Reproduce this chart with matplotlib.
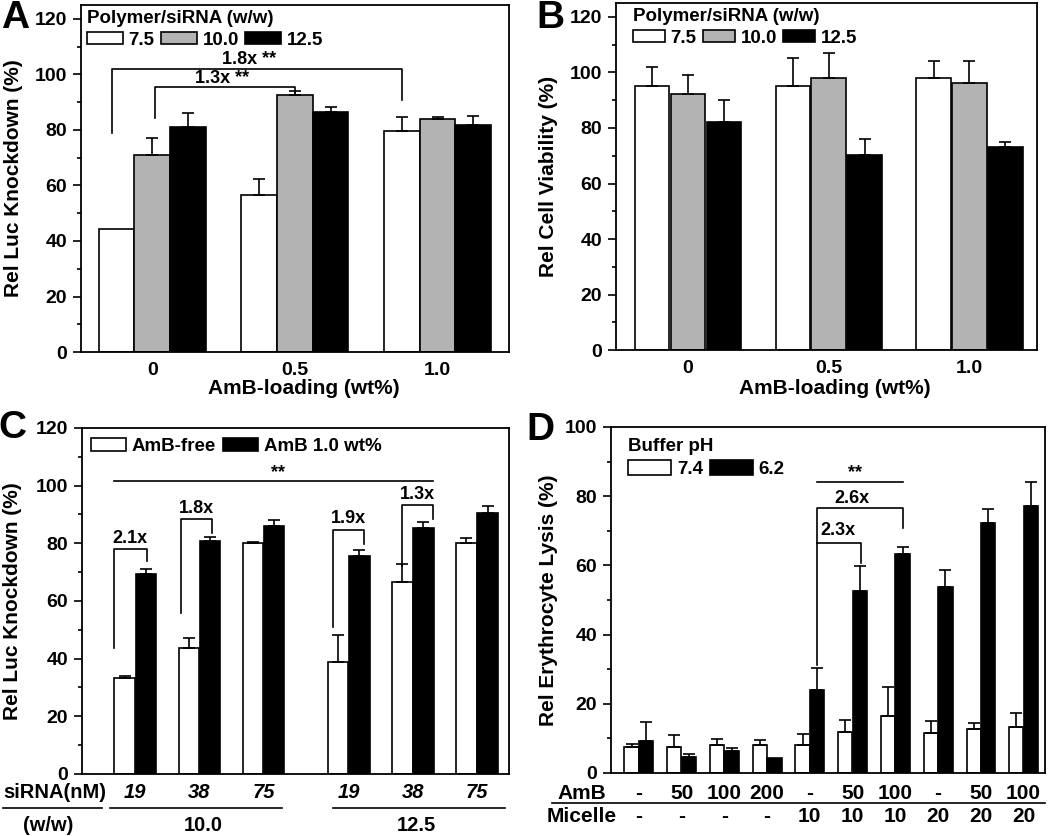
import numpy as np
import matplotlib
matplotlib.use("Agg")
import matplotlib.pyplot as plt
from matplotlib.patches import Patch
from matplotlib.ticker import MultipleLocator

plt.rcParams['font.family'] = ['Liberation Sans', 'DejaVu Sans']
plt.rcParams['font.weight'] = 'bold'
plt.rcParams['axes.labelweight'] = 'bold'

# ---------------- data ----------------
# Panel A: Rel Luc Knockdown vs AmB loading
a_groups = ["0", "0.5", "1.0"]
a_series = ["7.5", "10.0", "12.5"]
a_w75 = [44.4, 56.4, 79.7]
a_w75_err = [0.0, 6.0, 4.9]
a_w10 = [70.9, 92.5, 84.0]
a_w10_err = [6.3, 1.6, 0.6]
a_w125 = [81.2, 86.6, 81.8]
a_w125_err = [4.8, 1.8, 3.4]

# Panel B: Rel Cell Viability
b_w75 = [95.0, 95.0, 98.1]
b_w75_err = [7.0, 10.1, 6.0]
b_w10 = [92.1, 98.1, 96.1]
b_w10_err = [7.0, 8.9, 8.0]
b_w125 = [82.1, 70.2, 73.2]
b_w125_err = [8.1, 5.9, 1.9]

# Panel C: knockdown vs siRNA dose
c_sirna = ["19", "38", "75", "19", "38", "75"]
c_ww = ["10.0", "12.5"]
c_free = [33.3, 43.8, 80.1, 38.8, 66.7, 80.1]
c_free_err = [0.8, 3.4, 0.2, 9.4, 6.0, 1.7]
c_amb = [69.2, 80.8, 85.9, 75.6, 85.3, 90.6]
c_amb_err = [2.0, 1.3, 2.2, 2.2, 2.1, 2.2]
c_series = ["AmB-free", "AmB 1.0 wt%"]

# Panel D: erythrocyte lysis
d_amb = ["-", "50", "100", "200", "-", "50", "100", "-", "50", "100"]
d_micelle = ["-", "-", "-", "-", "10", "10", "10", "20", "20", "20"]
d_ph74 = [7.5, 7.4, 8.1, 8.1, 8.0, 11.9, 16.6, 11.5, 12.6, 13.2]
d_ph74_err = [1.0, 3.6, 1.7, 1.3, 3.2, 3.3, 8.2, 3.5, 1.9, 4.1]
d_ph62 = [9.1, 4.6, 6.3, 4.4, 24.0, 52.5, 63.2, 53.8, 72.2, 77.1]
d_ph62_err = [5.7, 0.9, 0.8, 0.0, 6.4, 7.4, 2.2, 5.0, 4.2, 6.9]
d_series = ["7.4", "6.2"]

WHITE, GRAY, BLACK = "white", "#b3b3b3", "black"
LW = 1.2
FS_TICK = 14
FS_LAB = 15
FS_LEG = 13.5
FS_ANN = 13

fig = plt.figure(figsize=(10.5, 8.36), dpi=100)


def style_axis(ax, ylim_top, label):
    ax.set_ylim(0, ylim_top)
    ax.yaxis.set_major_locator(MultipleLocator(20))
    ax.yaxis.set_minor_locator(MultipleLocator(10))
    ax.tick_params(axis='y', which='major', direction='out', length=6, width=1.2,
                   labelsize=FS_TICK, pad=4)
    ax.tick_params(axis='y', which='minor', direction='out', length=3, width=1.2)
    ax.tick_params(axis='x', which='both', length=0, labelsize=FS_TICK, pad=7)
    for s in ax.spines.values():
        s.set_linewidth(1.3)
    ax.set_ylabel(label, fontsize=FS_LAB, fontweight='bold')
    for t in ax.get_yticklabels():
        t.set_fontweight('bold')


def bars(ax, x, vals, errs, w, color):
    x = np.asarray(x, float)
    ax.bar(x, vals, width=w, color=color, edgecolor='black', linewidth=LW, zorder=2)
    vals = np.asarray(vals, float)
    errs = np.asarray(errs, float)
    m = errs > 0
    ax.errorbar(x[m], vals[m], yerr=[np.zeros(m.sum()), errs[m]], fmt='none',
                ecolor='black', elinewidth=1.2, capsize=4, capthick=1.2, zorder=3)


def legend(ax, labels, colors, title, hl, hh, anchor, ncol):
    handles = [Patch(facecolor=c, edgecolor='black', linewidth=LW) for c in colors]
    lg = ax.legend(handles, labels, title=title, ncol=ncol, loc='upper left',
                   bbox_to_anchor=anchor, frameon=False, handlelength=hl,
                   handleheight=hh, handletextpad=0.3, columnspacing=0.35,
                   labelspacing=0.25,
                   prop={'size': FS_LEG, 'weight': 'bold'}, borderaxespad=0,
                   borderpad=0, alignment='left')
    if title:
        lg.get_title().set_fontsize(FS_LEG)
        lg.get_title().set_fontweight('bold')
    return lg


def bracket(ax, x1, y1, x2, y2, ytop, text, ty, tx=None):
    ax.plot([x1, x1, x2, x2], [y1, ytop, ytop, y2], color='black', lw=1.2, zorder=4,
            clip_on=False)
    if text:
        ax.text((x1 + x2) / 2 if tx is None else tx, ty, text, ha='center', va='center',
                fontsize=FS_ANN, fontweight='bold')


# ---------------- Panel A ----------------
axA = fig.add_axes([0.0771, 0.5789, 0.4076, 0.4151])
xa = np.arange(len(a_groups))
bars(axA, xa - 0.25, a_w75, a_w75_err, 0.25, WHITE)
bars(axA, xa, a_w10, a_w10_err, 0.25, GRAY)
bars(axA, xa + 0.25, a_w125, a_w125_err, 0.25, BLACK)
axA.set_xlim(-0.5, 2.5)
axA.set_xticks(xa)
axA.set_xticklabels(a_groups, fontweight='bold')
style_axis(axA, 125, "Rel Luc Knockdown (%)")
axA.yaxis.set_label_coords(-0.135, 0.5)
axA.set_xlabel("AmB-loading (wt%)", fontsize=FS_LAB, fontweight='bold')
axA.xaxis.set_label_coords(0.52, -0.078)
legend(axA, a_series, [WHITE, GRAY, BLACK], "Polymer/siRNA (w/w)", 1.9, 0.65,
       (0.015, 0.986), 3)
bracket(axA, -0.28, 78.8, 1.75, 90.8, 102.0, "1.8x **", 105.3, 0.68)
bracket(axA, 0.02, 84.2, 1.0, 93.4, 95.3, "1.3x **", 98.6, 0.49)
fig.text(0.014, 0.978, "A", fontsize=28, fontweight='bold', va='center', ha='center')

# ---------------- Panel B ----------------
axB = fig.add_axes([0.5867, 0.5813, 0.401, 0.415])
xb = np.arange(3)
bars(axB, xb - 0.255, b_w75, b_w75_err, 0.245, WHITE)
bars(axB, xb, b_w10, b_w10_err, 0.245, GRAY)
bars(axB, xb + 0.255, b_w125, b_w125_err, 0.245, BLACK)
axB.set_xlim(-0.51, 2.48)
axB.set_xticks(xb)
axB.set_xticklabels(a_groups, fontweight='bold')
style_axis(axB, 125, "Rel Cell Viability (%)")
axB.yaxis.set_label_coords(-0.137, 0.5)
axB.set_xlabel("AmB-loading (wt%)", fontsize=FS_LAB, fontweight='bold')
axB.xaxis.set_label_coords(0.52, -0.084)
legend(axB, a_series, [WHITE, GRAY, BLACK], "Polymer/siRNA (w/w)", 1.7, 0.65,
       (0.04, 0.986), 3)
fig.text(0.524, 0.978, "B", fontsize=28, fontweight='bold', va='center', ha='center')

# ---------------- Panel C ----------------
axC = fig.add_axes([0.0781, 0.0742, 0.4067, 0.4139])
xc = np.array([0, 1, 2, 3.33, 4.33, 5.33])
bars(axC, xc - 0.165, c_free, c_free_err, 0.32, WHITE)
bars(axC, xc + 0.165, c_amb, c_amb_err, 0.32, BLACK)
axC.set_xlim(-0.83, 5.83)
axC.set_xticks([])
style_axis(axC, 120, "Rel Luc Knockdown (%)")
axC.yaxis.set_label_coords(-0.14, 0.5)
legend(axC, c_series, [WHITE, BLACK], None, 1.9, 0.7, (0.02, 0.972), 2)
bracket(axC, -0.33, 43.7, 0.18, 73.8, 78.0, "2.1x", 81.7, -0.08)
bracket(axC, 0.72, 55.8, 1.2, 83.4, 88.4, "1.8x", 92.0, 0.95)
bracket(axC, 3.08, 50.9, 3.57, 79.9, 84.7, "1.9x", 88.5, 3.32)
bracket(axC, 4.16, 72.0, 4.64, 88.4, 93.4, "1.3x", 96.8, 4.4)
axC.plot([-0.33, 4.64], [101.5, 101.5], color='black', lw=1.2)
axC.text(2.22, 104.6, "**", ha='center', va='center', fontsize=FS_ANN, fontweight='bold')
tC = axC.get_xaxis_transform()
for x, s in zip(xc, c_sirna):
    axC.text(x, -0.055, s, transform=tC, ha='center', va='center', fontsize=FS_TICK + 0.5,
             fontweight='bold', style='italic')
axC.text(-0.063, -0.055, "siRNA(nM)", transform=axC.transAxes, ha='center', va='center',
         fontsize=FS_TICK + 0.5, fontweight='bold')
axC.text(-0.08, -0.148, "(w/w)", transform=axC.transAxes, ha='center', va='center',
         fontsize=FS_TICK + 0.5, fontweight='bold')
for gi, lab in enumerate(c_ww):
    xs = xc[gi * 3:(gi + 1) * 3]
    axC.text(xs.mean() + 0.06, -0.148, lab, transform=tC, ha='center', va='center',
             fontsize=FS_TICK + 0.5, fontweight='bold')
for (x0, x1) in [(-0.185, 0.047), (0.066, 0.468), (0.588, 0.991)]:
    axC.plot([x0, x1], [-0.098, -0.098], transform=axC.transAxes, color='black',
             lw=1.2, clip_on=False)
fig.text(0.012, 0.488, "C", fontsize=28, fontweight='bold', va='center', ha='center')

# ---------------- Panel D ----------------
axD = fig.add_axes([0.5819, 0.0754, 0.4133, 0.4139])
xd = np.arange(len(d_amb))
bars(axD, xd - 0.17, d_ph74, d_ph74_err, 0.33, WHITE)
bars(axD, xd + 0.17, d_ph62, d_ph62_err, 0.34, BLACK)
axD.set_xlim(-0.65, 9.5)
axD.set_xticks([])
style_axis(axD, 100, "Rel Erythrocyte Lysis (%)")
axD.yaxis.set_label_coords(-0.122, 0.5)
legend(axD, d_series, [WHITE, BLACK], "Buffer pH", 2.3, 0.9, (0.04, 0.968), 2)
axD.plot([4.17, 6.17], [84.2, 84.2], color='black', lw=1.2)
axD.text(5.05, 86.8, "**", ha='center', va='center', fontsize=FS_ANN, fontweight='bold')
bracket(axD, 4.17, 31.3, 6.17, 70.7, 76.5, "2.6x", 79.4, 4.98)
bracket(axD, 4.17, 66.4, 5.19, 60.6, 66.4, "2.3x", 70.1, 4.65)
tD = axD.get_xaxis_transform()
for x, s in zip(xd, d_amb):
    axD.text(x, -0.058, s, transform=tD, ha='center', va='center', fontsize=FS_TICK + 1,
             fontweight='bold')
for x, s in zip(xd, d_micelle):
    axD.text(x, -0.127, s, transform=tD, ha='center', va='center', fontsize=FS_TICK + 1,
             fontweight='bold')
axD.text(-0.01, -0.058, "AmB", transform=axD.transAxes, ha='right', va='center',
         fontsize=FS_TICK + 1, fontweight='bold')
axD.text(0.014, -0.127, "Micelle", transform=axD.transAxes, ha='right', va='center',
         fontsize=FS_TICK + 1, fontweight='bold')
axD.plot([-0.136, 1.0], [-0.088, -0.088], transform=axD.transAxes, color='black',
         lw=1.2, clip_on=False)
fig.text(0.515, 0.486, "D", fontsize=28, fontweight='bold', va='center', ha='center')

fig.savefig("out.png", dpi=100)
